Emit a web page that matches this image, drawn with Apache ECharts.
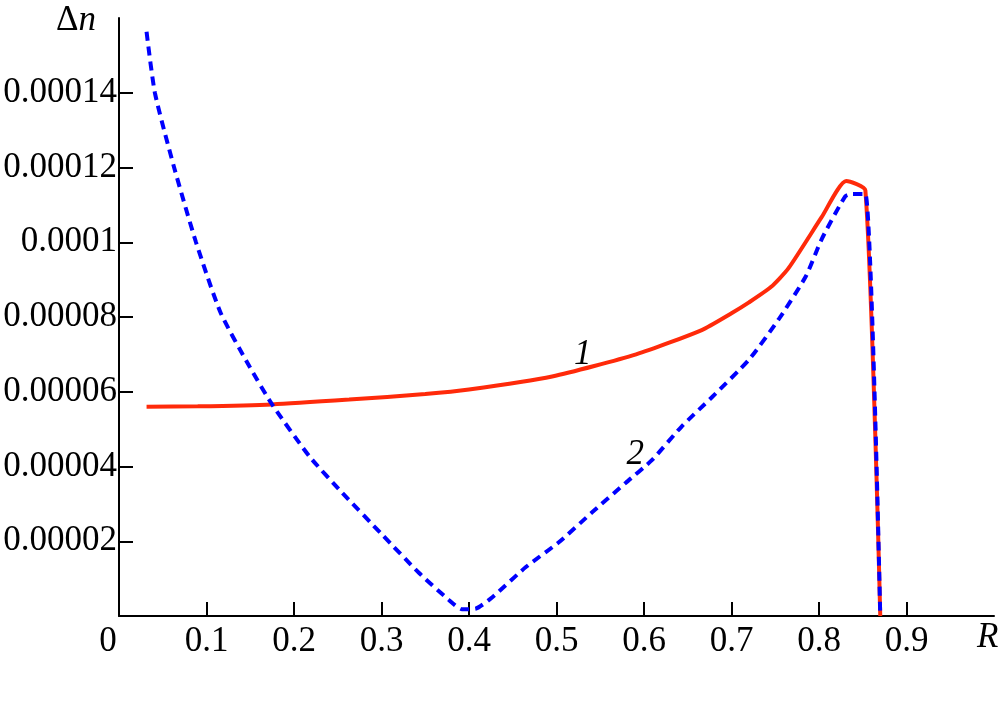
<!DOCTYPE html>
<html><head><meta charset="utf-8">
<script src="https://cdn.jsdelivr.net/npm/echarts@6/dist/echarts.min.js"></script>
<style>html,body{margin:0;padding:0;background:#fff}#c{width:1007px;height:703px}</style>
</head><body><div id="c"></div>
<script>
var xTicks = [0.1,0.2,0.3,0.4,0.5,0.6,0.7,0.8,0.9];
var xLabels = [0,0.1,0.2,0.3,0.4,0.5,0.6,0.7,0.8,0.9];
var yTicks = [0.00002,0.00004,0.00006,0.00008,0.0001,0.00012,0.00014];
var curve1 = [
 [0.0315,0.0000560],[0.09,0.0000561],[0.175,0.0000566],[0.263,0.0000579],[0.35,0.0000594],
 [0.40,0.0000606],[0.495,0.0000641],[0.591,0.0000700],[0.666,0.0000765],
 [0.700,0.0000810],[0.720,0.0000839],[0.745,0.0000880],[0.765,0.0000930],[0.803,0.0001067],
 [0.831,0.0001164],[0.853,0.0001139],[0.870,0]
];
var curve2 = [
 [0.0315,0.0001563],[0.041,0.00014],[0.063,0.00012],[0.088,0.0001],[0.116,0.0000812],
 [0.149,0.0000668],[0.175,0.0000566],[0.218,0.0000426],[0.255,0.0000330],[0.301,0.0000217],
 [0.343,0.0000115],[0.377,0.0000043],[0.392,0.0000018],[0.408,0.0000020],[0.427,0.0000051],
 [0.465,0.0000131],[0.503,0.0000198],[0.541,0.0000278],[0.579,0.0000356],[0.609,0.0000417],
 [0.643,0.0000507],[0.677,0.0000584],[0.720,0.0000686],[0.754,0.0000794],[0.785,0.0000909],
 [0.803,0.0001008],[0.830,0.0001123],[0.837,0.0001129],[0.853,0.0001129],[0.870,0]
];
var label1Pos = [0.530,0.0000698];
var label2Pos = [0.590,0.0000431];

var FONT = '"Liberation Serif","DejaVu Serif",serif';
var FS = 35;
function fmtY(v){ var s=v.toFixed(5); s=s.replace(/0+$/,''); return s; }
var chart = echarts.init(document.getElementById('c'));
chart.setOption({
  animation:false,
  backgroundColor:'#fff',
  grid:{left:119,right:13,top:18,bottom:87},
  xAxis:{type:'value',min:0,max:1.0,
    axisLine:{show:true,lineStyle:{color:'#000',width:2}},
    splitLine:{show:false},
    axisTick:{show:true,inside:true,length:14,lineStyle:{color:'#000',width:2},customValues:xTicks},
    axisLabel:{customValues:xLabels,margin:8,color:'#000',fontFamily:FONT,fontSize:FS,
      formatter:function(v){ return v===0?'{z|0}':String(+v.toFixed(1)); },
      rich:{z:{fontFamily:FONT,fontSize:FS,color:'#000',padding:[0,22,0,0]}}}
  },
  yAxis:{type:'value',min:0,max:0.00016,
    axisLine:{show:true,lineStyle:{color:'#000',width:2}},
    splitLine:{show:false},
    axisTick:{show:true,inside:true,length:14,lineStyle:{color:'#000',width:2},customValues:yTicks},
    axisLabel:{customValues:yTicks,margin:2,color:'#000',fontFamily:FONT,fontSize:FS,formatter:fmtY}
  },
  graphic:[
    {type:'text',left:56,top:3,style:{text:'{a|Δ}{b|n}',rich:{a:{fontFamily:FONT,fontSize:FS,fill:'#000'},b:{fontFamily:FONT,fontSize:FS,fontStyle:'italic',fill:'#000'}}}},
    {type:'text',left:977,top:620,style:{text:'R',fontFamily:FONT,fontSize:FS,fontStyle:'italic',fill:'#000'}}
  ],
  series:[
    {type:'line',data:curve1,showSymbol:false,symbol:'none',z:2,smooth:0.2,
     lineStyle:{color:'#ff2a0a',width:4},
     markPoint:{symbol:'circle',symbolSize:0,data:[{coord:label1Pos,value:'1'}],
       label:{show:true,position:'inside',formatter:'1',fontFamily:FONT,fontSize:FS,fontStyle:'italic',color:'#000'}}},
    {type:'line',data:curve2,showSymbol:false,symbol:'none',z:3,smooth:0.2,
     lineStyle:{color:'#0000ff',width:4,type:[9,6]},
     markPoint:{symbol:'circle',symbolSize:0,data:[{coord:label2Pos,value:'2'}],
       label:{show:true,position:'inside',formatter:'2',fontFamily:FONT,fontSize:FS,fontStyle:'italic',color:'#000'}}}
  ]
});
</script></body></html>
